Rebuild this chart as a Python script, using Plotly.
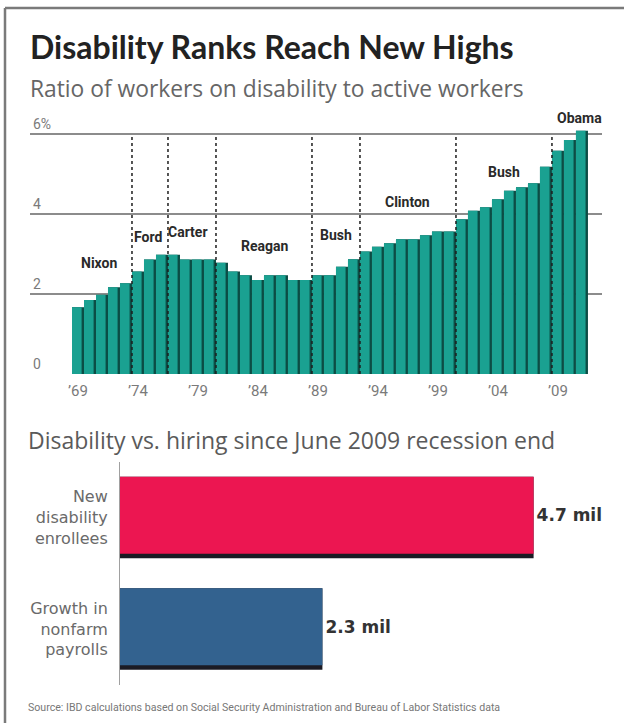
import plotly.graph_objects as go

# ---------------- data ----------------
years = list(range(1969, 2012))
ratio = [1.67, 1.85, 1.98, 2.17, 2.27, 2.56, 2.86, 2.98, 2.98, 2.86,
         2.86, 2.86, 2.78, 2.56, 2.47, 2.35, 2.47, 2.47, 2.35, 2.35,
         2.47, 2.47, 2.68, 2.87, 3.06, 3.18, 3.27, 3.37, 3.37, 3.47,
         3.56, 3.56, 3.87, 4.08, 4.17, 4.37, 4.58, 4.67, 4.77, 5.18,
         5.58, 5.85, 6.08]
tick_years = [1969, 1974, 1979, 1984, 1989, 1994, 1999, 2004, 2009]
tick_text = ["’69", "’74", "’79", "’84", "’89", "’94", "’99", "’04", "’09"]
y_ticks = [0, 2, 4, 6]
y_tick_text = ["0", "2", "4", "6%"]
term_starts = [1974, 1977, 1981, 1989, 1993, 2001, 2009]
presidents = ["Nixon", "Ford", "Carter", "Reagan", "Bush", "Clinton", "Bush", "Obama"]

bar_cats = ["New<br>disability<br>enrollees", "Growth in<br>nonfarm<br>payrolls"]
bar_vals = [4.7, 2.3]
bar_unit = "mil"

# ---------------- layout helpers ----------------
W, H = 624, 723
def px(p):
    return p / W
def py(p):
    return 1 - p / H

pres_label_x = [1970.75, 1974.8, 1978.2, 1984.6, 1990.5, 1996.5, 2004.5, 2010.8]
pres_label_y = [2.78, 3.43, 3.55, 3.2, 3.48, 4.3, 5.05, 6.4]

teal = "#1aa191"
teal_dark = "#0b4d45"
bar_colors = ["#ec1651", "#33628f"]
shadow = "#1b1b24"

fig = go.Figure()

fig.add_trace(go.Bar(x=years, y=ratio, width=1.0, offset=-0.5,
                     marker=dict(color=teal_dark, line=dict(width=0)),
                     xaxis="x", yaxis="y", hoverinfo="skip", showlegend=False))
fig.add_trace(go.Bar(x=years, y=ratio, width=0.8, offset=-0.5,
                     marker=dict(color=teal, line=dict(width=0)),
                     xaxis="x", yaxis="y", showlegend=False))

fig.add_trace(go.Bar(y=bar_cats, x=bar_vals, orientation="h", width=0.73, offset=-0.365,
                     marker=dict(color=shadow, line=dict(width=0)),
                     xaxis="x2", yaxis="y2", hoverinfo="skip", showlegend=False))
fig.add_trace(go.Bar(y=bar_cats, x=bar_vals, orientation="h", width=0.69, offset=-0.365,
                     marker=dict(color=bar_colors, line=dict(width=0)),
                     text=[f"<b>{v} {bar_unit}</b>" for v in bar_vals],
                     textposition="outside", cliponaxis=False,
                     textfont=dict(family="DejaVu Sans", size=17, color="#333333"),
                     xaxis="x2", yaxis="y2", showlegend=False))

shapes = []
for s in term_starts:
    shapes.append(dict(type="line", xref="x", yref="y", x0=s - 0.5, x1=s - 0.5, y0=0, y1=6,
                       line=dict(color="#1e1e1e", width=1.5, dash="dot"), layer="above"))
shapes.append(dict(type="line", xref="paper", yref="paper", x0=px(5), x1=px(5), y0=0, y1=py(8),
                   line=dict(color="#7a7a7a", width=2.5)))
shapes.append(dict(type="line", xref="paper", yref="paper", x0=px(5), x1=1, y0=py(8), y1=py(8),
                   line=dict(color="#7a7a7a", width=2.5)))

annotations = []
for name, xx, yy in zip(presidents, pres_label_x, pres_label_y):
    annotations.append(dict(x=xx, y=yy, xref="x", yref="y", text=f"<b>{name}</b>", showarrow=False,
                            font=dict(family="Roboto", size=14, color="#2a2a2a")))

annotations += [
    dict(x=px(28), y=py(47), xref="paper", yref="paper", xanchor="left", yanchor="middle",
         text="<b>Disability Ranks Reach New Highs</b>", showarrow=False,
         font=dict(family="Lato", size=32, color="#222222")),
    dict(x=px(28), y=py(88), xref="paper", yref="paper", xanchor="left", yanchor="middle",
         text="Ratio of workers on disability to active workers", showarrow=False,
         font=dict(family="Open Sans", size=22.8, color="#666666")),
    dict(x=px(26), y=py(440), xref="paper", yref="paper", xanchor="left", yanchor="middle",
         text="Disability vs. hiring since June 2009 recession end", showarrow=False,
         font=dict(family="Open Sans", size=23, color="#5a5a5a")),
    dict(x=px(26), y=py(707), xref="paper", yref="paper", xanchor="left", yanchor="middle",
         text="Source: IBD calculations based on Social Security Administration and Bureau of Labor Statistics data",
         showarrow=False, font=dict(family="Roboto", size=10.6, color="#777777")),
]

fig.update_layout(
    width=W, height=H, autosize=False,
    margin=dict(l=0, r=0, t=0, b=0),
    paper_bgcolor="white", plot_bgcolor="white",
    barmode="overlay",
    showlegend=False,
    xaxis=dict(domain=[px(30), px(602)], range=[1965, 2012.67], anchor="y",
               tickmode="array", tickvals=tick_years, ticktext=tick_text,
               showgrid=False, zeroline=False, showline=False,
               ticks="outside", ticklen=3, tickcolor="rgba(0,0,0,0)",
               tickfont=dict(family="Roboto", size=15, color="#7a7a7a")),
    yaxis=dict(domain=[py(374), py(114)], range=[0, 6.5], anchor="x",
               tickmode="array", tickvals=y_ticks, ticktext=y_tick_text,
               ticklabelposition="inside top",
               showgrid=True, gridcolor="#8c8c8c", gridwidth=1.5,
               zeroline=False, showline=False,
               tickfont=dict(family="Roboto", size=14, color="#7a7a7a")),
    xaxis2=dict(domain=[px(120), px(604)], range=[0, 5.5], anchor="y2",
                visible=False),
    yaxis2=dict(domain=[py(684.75), py(461.75)], type="category", anchor="x2",
                range=[1.5, -0.5],
                showline=True, linecolor="#a0a0a0", linewidth=1,
                showgrid=False, zeroline=False,
                ticks="outside", ticklen=8, tickcolor="rgba(0,0,0,0)",
                tickfont=dict(family="DejaVu Sans", size=16, color="#6a6a6a")),
    shapes=shapes,
    annotations=annotations,
)

fig.write_html("out.html", config={"displayModeBar": False},
               post_script="document.body.style.margin='0';document.body.style.overflow='hidden';")
